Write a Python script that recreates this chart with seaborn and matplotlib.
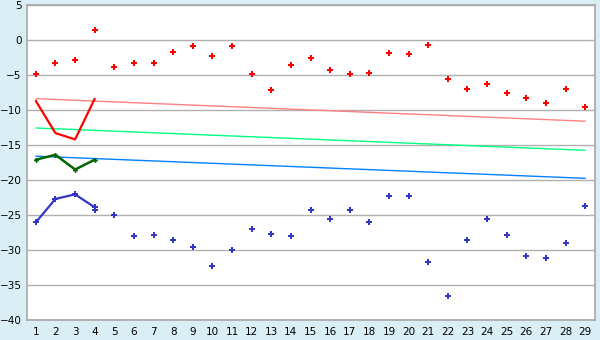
import matplotlib
matplotlib.use("Agg")
import matplotlib.pyplot as plt
import seaborn as sns
import numpy as np
import pandas as pd

x_all = list(range(1, 30))
red_pts = [-4.9, -3.3, -2.9, 1.4, -3.9, -3.3, -3.3, -1.76, -0.9, -2.3,
           -0.9, -4.9, -7.2, -3.6, -2.6, -4.3, -4.9, -4.76, -1.9, -2.05,
           -0.76, -5.5, -7.05, -6.3, -7.6, -8.3, -9.05, -7.05, -9.5]
blue_pts = [-26.05, -22.7, -22.05, -24.3, -25.05, -28.05, -27.9, -28.5, -29.6, -32.3,
            -30.05, -27.05, -27.76, -28.05, -24.3, -25.6, -24.3, -26.05, -22.3, -22.3,
            -31.76, -36.5, -28.5, -25.6, -27.9, -30.9, -31.2, -29.05, -23.76]

x_short = [1, 2, 3, 4]
red_line = [-8.7, -13.3, -14.2, -8.4]
green_line = [-17.1, -16.4, -18.5, -17.1]
blue_line = [-26.05, -22.7, -22.05, -23.9]

trend_x = [1, 29]
trend_red = [-8.38, -11.6]
trend_green = [-12.57, -15.76]
trend_blue = [-16.6, -19.76]

yticks = list(range(-40, 6, 5))

sns.set_theme(style="white")
plt.rcParams['font.family'] = ['DejaVu Sans']

bg = "#d9eff5"
fig = plt.figure(figsize=(6, 3.4), dpi=100, facecolor=bg)
ax = fig.add_axes([27/600, 20/340, 568/600, 315/340])
ax.set_facecolor("white")

for yv in yticks:
    ax.axhline(yv, color="#b0b0b0", lw=1.0, zorder=0)

sns.lineplot(x=trend_x, y=trend_red, color="#ff8080", lw=1.0, ax=ax)
sns.lineplot(x=trend_x, y=trend_green, color="#00ff80", lw=1.0, ax=ax)
sns.lineplot(x=trend_x, y=trend_blue, color="#0080ff", lw=1.0, ax=ax)

sns.lineplot(x=x_short, y=red_line, color="#ff0000", lw=1.6, ax=ax)
sns.lineplot(x=x_short, y=green_line, color="#006400", lw=1.8, ax=ax,
             marker="P", markersize=3.5, markeredgewidth=0, markerfacecolor="#006400")
sns.lineplot(x=x_short, y=blue_line, color="#3535c8", lw=1.6, ax=ax,
             marker="P", markersize=4.5, markeredgewidth=0, markerfacecolor="#3535c8")

sns.scatterplot(x=x_all, y=red_pts, color="#ff0000", marker="P", s=24,
                linewidth=0, ax=ax, zorder=5)
sns.scatterplot(x=x_all, y=blue_pts, color="#3535c8", marker="P", s=24,
                linewidth=0, ax=ax, zorder=5)

ax.set_xlim(0.55, 29.5)
ax.set_ylim(-40, 5)
ax.set_xticks(x_all)
ax.set_xticklabels([str(v) for v in x_all])
ax.set_yticks(yticks)
ax.set_yticklabels([str(v).replace("-", "\u2212") for v in yticks])

for s in ax.spines.values():
    s.set_color("#a8a8a8")
    s.set_linewidth(1.2)
    s.set_visible(True)

ax.tick_params(axis="x", direction="out", length=4, width=1, color="#333333",
               labelsize=7.5, pad=1, colors="#000000")
ax.tick_params(axis="y", direction="out", length=3, width=1, color="#333333",
               labelsize=7.5, pad=1, colors="#000000")
ax.tick_params(axis="x", color="#333333")
ax.tick_params(axis="y", color="#333333")

fig.savefig("out.png", dpi=100, facecolor=bg)
